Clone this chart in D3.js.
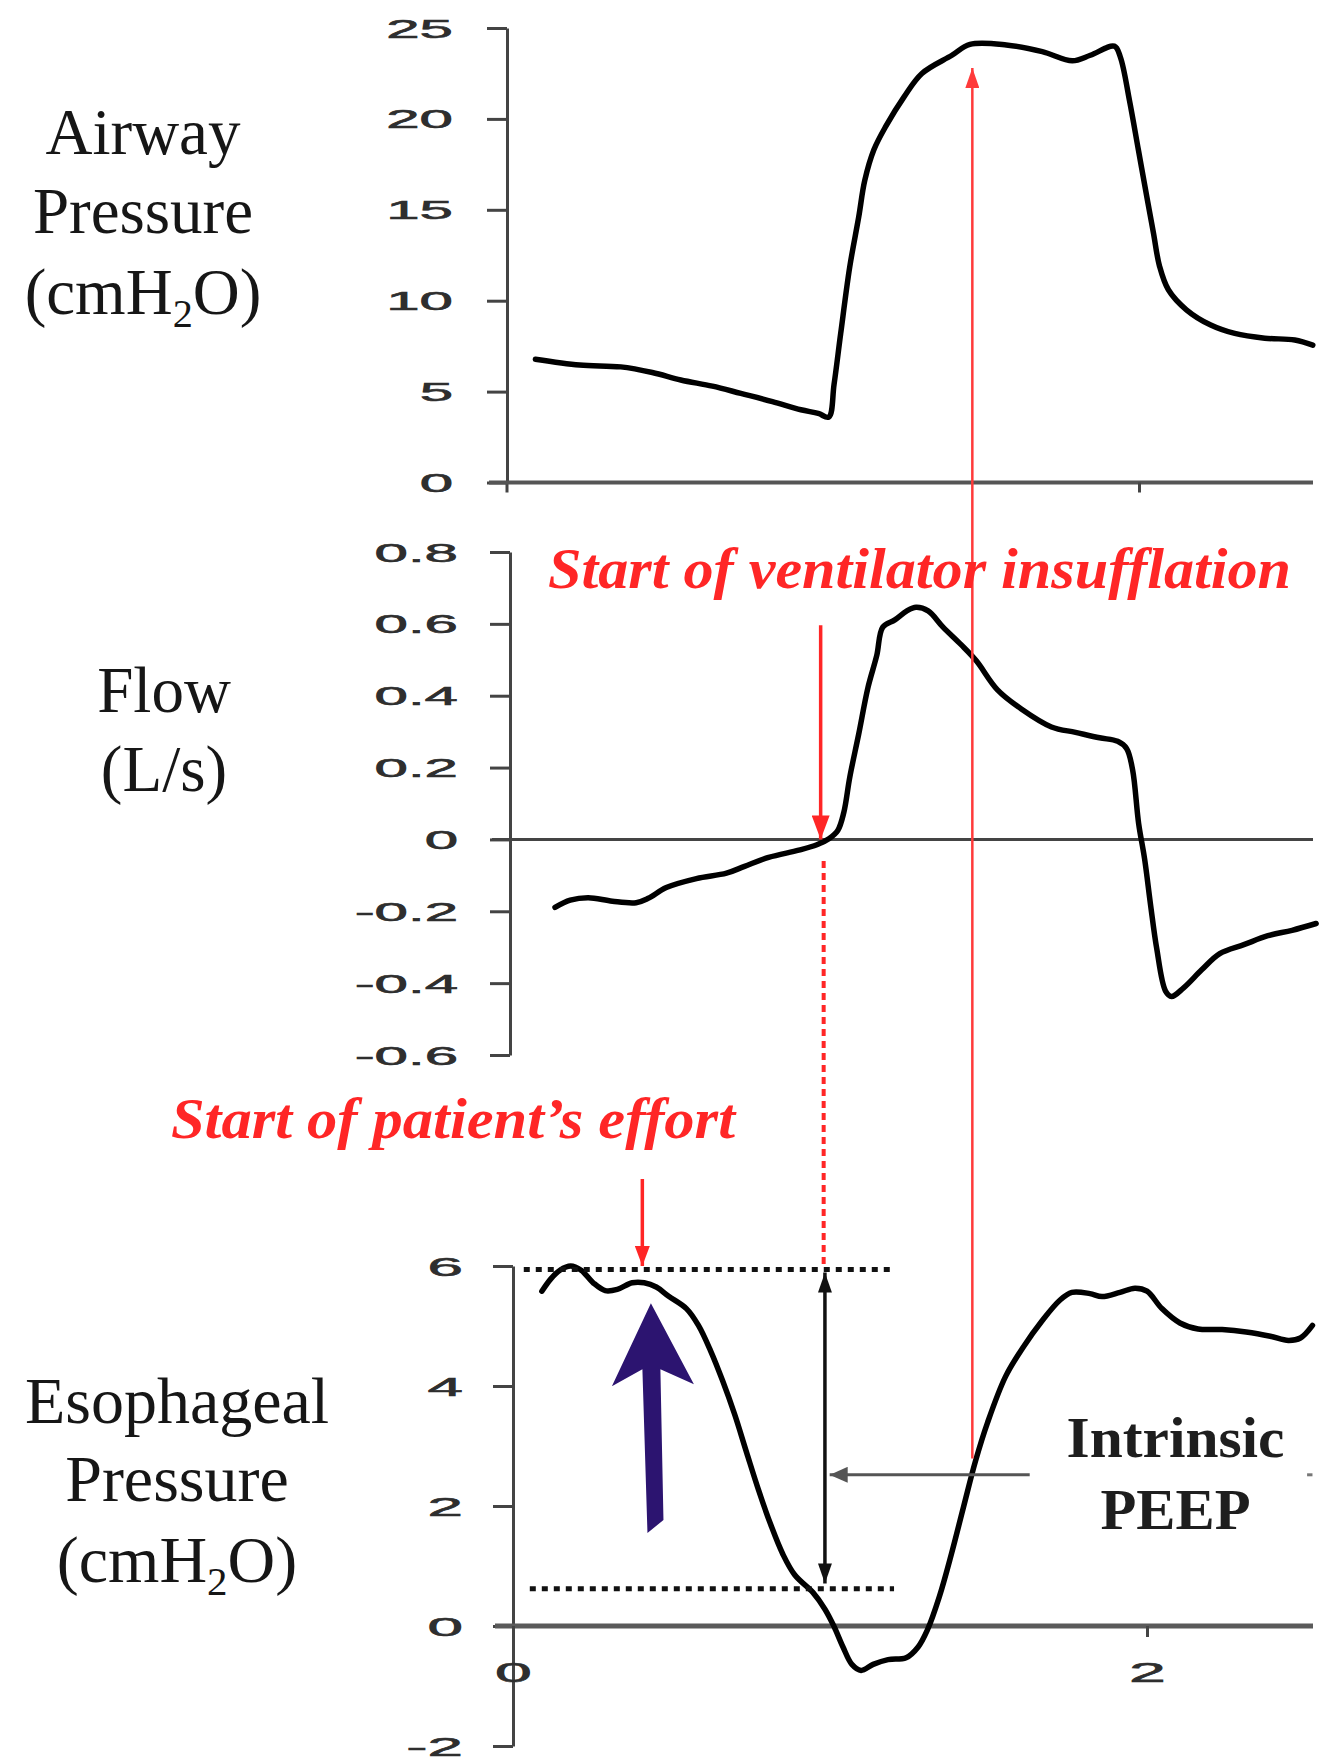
<!DOCTYPE html>
<html><head><meta charset="utf-8">
<script src="https://cdn.jsdelivr.net/npm/d3@7"></script>
<style>html,body{margin:0;padding:0;background:#fff}svg{display:block}</style>
</head><body>
<svg id="chart" width="1323" height="1760"></svg>
<script>
// ---------------- DATA ----------------
// Time (s) and airway pressure (cmH2O)
const airwayTime = [0.09,0.23,0.36,0.46,0.55,0.65,0.74,0.84,0.93,0.985,1.018,1.035,1.056,1.085,1.113,1.132,1.161,1.199,1.256,1.313,1.408,1.465,1.58,1.694,1.789,1.846,1.922,1.941,1.97,1.998,2.027,2.046,2.065,2.093,2.15,2.227,2.303,2.398,2.493,2.55];
const airwayPressure = [6.78,6.46,6.36,6.05,5.64,5.3,4.9,4.45,4.0,3.8,3.6,5.4,8.2,11.9,14.6,16.6,18.3,19.6,21.2,22.5,23.5,24.1,24.07,23.7,23.2,23.5,24.0,23.4,21.0,18.3,15.5,13.7,11.9,10.6,9.5,8.66,8.2,7.94,7.84,7.56];
// Time (s) and flow (L/s)
const flowTime = [0.142,0.19,0.247,0.323,0.398,0.436,0.493,0.588,0.683,0.74,0.816,0.911,0.968,1.006,1.034,1.053,1.072,1.1,1.129,1.157,1.176,1.214,1.252,1.281,1.319,1.366,1.423,1.471,1.537,1.613,1.708,1.784,1.86,1.917,1.945,1.964,1.983,2.002,2.021,2.04,2.068,2.087,2.125,2.182,2.239,2.315,2.391,2.467,2.543];
const flowValues = [-0.189,-0.169,-0.162,-0.172,-0.176,-0.164,-0.134,-0.109,-0.094,-0.075,-0.05,-0.03,-0.015,0.002,0.025,0.075,0.174,0.293,0.422,0.512,0.591,0.611,0.636,0.646,0.636,0.591,0.542,0.497,0.417,0.363,0.313,0.298,0.283,0.273,0.253,0.194,0.045,-0.055,-0.184,-0.303,-0.422,-0.437,-0.413,-0.363,-0.318,-0.293,-0.268,-0.253,-0.234];
// Time (s) and esophageal pressure (cmH2O)
const esoTime = [0.091,0.12,0.148,0.182,0.215,0.253,0.291,0.329,0.376,0.414,0.452,0.49,0.547,0.585,0.623,0.661,0.699,0.737,0.775,0.813,0.851,0.889,0.946,0.984,1.012,1.041,1.069,1.098,1.136,1.183,1.24,1.278,1.307,1.345,1.383,1.421,1.459,1.497,1.554,1.611,1.668,1.725,1.763,1.82,1.858,1.915,1.962,2.0,2.047,2.104,2.161,2.237,2.313,2.389,2.446,2.484,2.522];
const esoPressure = [5.58,5.79,5.93,6.0,5.93,5.72,5.59,5.61,5.72,5.72,5.65,5.5,5.29,5.01,4.59,4.09,3.53,2.89,2.26,1.69,1.2,0.85,0.56,0.28,0,-0.35,-0.64,-0.74,-0.64,-0.56,-0.53,-0.35,-0.07,0.49,1.2,1.98,2.75,3.39,4.16,4.66,5.08,5.43,5.56,5.54,5.49,5.56,5.63,5.58,5.29,5.05,4.95,4.94,4.9,4.83,4.76,4.8,5.01];

// Tick values / labels
const airwayTicks = [0,5,10,15,20,25];
const flowTicks = [-0.6,-0.4,-0.2,0,0.2,0.4,0.6,0.8];
const esoTicks = [-2,0,2,4,6];
const timeTicks = [0,2];
const topTimeTicks = [2];

// Panel titles
const airwayTitle = ["Airway","Pressure","(cmH|2|O)"];
const flowTitle = ["Flow","(L/s)"];
const esoTitle = ["Esophageal","Pressure","(cmH|2|O)"];

// Annotation values (time s, value in panel units)
const ventLabel = "Start of ventilator insufflation";
const effortLabel = "Start of patient\u2019s effort";
const peepLabel = ["Intrinsic","PEEP"];
const ventArrow = [0.98, 0.596, 0.0];          // t, flow from, flow to
const ventDotted = [0.98, -0.06, 6.0];         // t, flow from, eso to
const effortArrow = [0.408, 7.45, 6.0];        // t, eso from, eso to
const peakArrow = [1.449, 2.79, 22.8];         // t, eso from, airway to
const upperDotted = [0.034, 1.202, 5.94];      // t from, t to, eso
const lowerDotted = [0.053, 1.202, 0.62];
const peepSpan = [0.984, 5.89, 0.71];          // t, eso top, eso bottom
const peepPointer = [1.63, 0.999, 2.52];       // t from, t to, eso
const peepDash = [2.505, 2.522, 2.52];
const blueArrow = [0.451, 1.65, 0.435, 5.38];  // t base, eso base, t tip, eso tip
const ventLabelPos = [0.12, 0.70];
const effortLabelPos = [-1.079, 8.13];
const peepLabelPos = [2.09, 2.82, 1.62];

// ---------------- SCALES ----------------
const plotRight = 1313;
const xTop = d3.scaleLinear().domain([0,2]).range([507,1139]);
const yTop = d3.scaleLinear().domain([0,25]).range([482.5,28]);
const xFlow = d3.scaleLinear().domain([0,2]).range([510,1144]);
const yFlow = d3.scaleLinear().domain([-0.6,0.8]).range([1055,552]);
const xEso = d3.scaleLinear().domain([0,2]).range([513,1147]);
const yEso = d3.scaleLinear().domain([-2,6]).range([1746,1266]);

const svg = d3.select("#chart");
const RED = "#ff2626";
const AX = "#444";

// markers
const defs = svg.append("defs");
function marker(id, color, len, wid, orient) {
  defs.append("marker").attr("id", id).attr("viewBox","0 0 10 10")
    .attr("refX",10).attr("refY",5).attr("markerUnits","userSpaceOnUse")
    .attr("markerWidth",len).attr("markerHeight",wid)
    .attr("preserveAspectRatio","none").attr("orient",orient || "auto")
    .append("path").attr("d","M0,0L10,5L0,10z").attr("fill",color);
}
marker("redBig", RED, 24, 18);
marker("redThin", "#ff3a3a", 20, 14);
marker("redSmall", RED, 20, 15);
marker("blk", "#111", 20, 14, "auto-start-reverse");
marker("gry", "#555", 18, 16);

// ---------------- AXES ----------------
const tickFmt = d => (d < 0 ? "-" : "") + String(Math.abs(d));
function styleLabels(sel, fs) {
  sel.attr("font-family", "Liberation Sans, Arial, sans-serif")
    .attr("font-size", fs).attr("fill", "#2e2e2e")
    .attr("stroke", "#2e2e2e").attr("stroke-width", 0.6);
}
function leftAxis(x, yScale, ticks, gap, fs, sx) {
  const g = svg.append("g").attr("transform", `translate(${x},0)`);
  g.call(d3.axisLeft(yScale).tickValues(ticks).tickSize(20).tickSizeOuter(0).tickFormat(tickFmt));
  g.select(".domain").attr("stroke", AX).attr("stroke-width", 3);
  g.selectAll(".tick line").attr("stroke", AX).attr("stroke-width", 3);
  const tx = g.selectAll(".tick text").attr("x", null).attr("dy", "0.36em")
    .attr("transform", `translate(${-gap},0) scale(${sx},1)`).attr("text-anchor", "end");
  styleLabels(tx, fs);
  return g;
}
leftAxis(507, yTop, airwayTicks, 54, 25, 2.4);
leftAxis(510, yFlow, flowTicks, 52, 25, 2.4);
leftAxis(513, yEso, esoTicks, 50, 26, 2.45);

// top panel baseline + tick
svg.append("line").attr("x1", xTop(0)).attr("x2", xTop(0)).attr("y1", yTop(0)).attr("y2", yTop(0)+10)
  .attr("stroke", AX).attr("stroke-width", 3);
svg.append("line").attr("x1", xTop(0)-18).attr("x2", plotRight).attr("y1", yTop(0)).attr("y2", yTop(0))
  .attr("stroke", "#555").attr("stroke-width", 4);
const gtx = svg.append("g").attr("transform", `translate(0,${yTop(0)})`)
  .call(d3.axisBottom(xTop).tickValues(topTimeTicks).tickSize(10).tickFormat(""));
gtx.select(".domain").remove();
gtx.selectAll(".tick line").attr("stroke", AX).attr("stroke-width", 3);

// flow zero line
svg.append("line").attr("x1", xFlow(0)-18).attr("x2", plotRight).attr("y1", yFlow(0)).attr("y2", yFlow(0))
  .attr("stroke", "#444").attr("stroke-width", 3);

// esophageal zero line + time axis
svg.append("line").attr("x1", xEso(0)-18).attr("x2", plotRight).attr("y1", yEso(0)).attr("y2", yEso(0))
  .attr("stroke", "#5a5a5a").attr("stroke-width", 5);
const gbx = svg.append("g").attr("transform", `translate(0,${yEso(0)})`)
  .call(d3.axisBottom(xEso).tickValues(timeTicks).tickSize(11).tickFormat(d => String(d)));
gbx.select(".domain").remove();
gbx.selectAll(".tick line").attr("stroke", AX).attr("stroke-width", 3);
const btx = gbx.selectAll(".tick text").attr("y", null).attr("dy", "0.36em")
  .attr("transform", "translate(0,46) scale(2.45,1)").attr("text-anchor", "middle");
styleLabels(btx, 27);

// ---------------- TITLES ----------------
function title(lines, cx, baselines, fs) {
  lines.forEach((ln, i) => {
    const t = svg.append("text").attr("x", cx).attr("y", baselines[i]).attr("text-anchor", "middle")
      .attr("font-family", "Liberation Serif, Times New Roman, serif").attr("font-size", fs).attr("fill", "#161616");
    const parts = ln.split("|");
    if (parts.length === 1) { t.text(ln); return; }
    t.append("tspan").text(parts[0]);
    t.append("tspan").attr("font-size", fs*0.62).attr("dy", fs*0.2).text(parts[1]);
    t.append("tspan").attr("dy", -fs*0.2).text(parts[2]);
  });
}
title(airwayTitle, 143, [154, 233, 314], 65);
title(flowTitle, 164, [712, 791], 65);
title(esoTitle, 177, [1423, 1501, 1582], 66);

// ---------------- CURVES ----------------
function curve(ts, vs, xs, ys) {
  const pts = ts.map((t, i) => [xs(t), ys(vs[i])]);
  svg.append("path").attr("d", d3.line().curve(d3.curveCatmullRom.alpha(0.5))(pts))
    .attr("fill", "none").attr("stroke", "#000").attr("stroke-width", 5.5)
    .attr("stroke-linejoin", "round").attr("stroke-linecap", "round");
}
curve(airwayTime, airwayPressure, xTop, yTop);
curve(flowTime, flowValues, xFlow, yFlow);
curve(esoTime, esoPressure, xEso, yEso);

// ---------------- ANNOTATIONS ----------------
// black dotted reference lines
[upperDotted, lowerDotted].forEach(d => {
  svg.append("line").attr("x1", xEso(d[0])).attr("x2", xEso(d[1])).attr("y1", yEso(d[2])).attr("y2", yEso(d[2]))
    .attr("stroke", "#111").attr("stroke-width", 5).attr("stroke-dasharray", "6,6");
});
// double-headed arrow (intrinsic PEEP span)
svg.append("line").attr("x1", xEso(peepSpan[0])).attr("x2", xEso(peepSpan[0]))
  .attr("y1", yEso(peepSpan[1])).attr("y2", yEso(peepSpan[2]))
  .attr("stroke", "#111").attr("stroke-width", 3.5)
  .attr("marker-start", "url(#blk)").attr("marker-end", "url(#blk)");
// pointer from label
svg.append("line").attr("x1", xEso(peepPointer[0])).attr("x2", xEso(peepPointer[1]))
  .attr("y1", yEso(peepPointer[2])).attr("y2", yEso(peepPointer[2]))
  .attr("stroke", "#555").attr("stroke-width", 3).attr("marker-end", "url(#gry)");
svg.append("line").attr("x1", xEso(peepDash[0])).attr("x2", xEso(peepDash[1]))
  .attr("y1", yEso(peepDash[2])).attr("y2", yEso(peepDash[2]))
  .attr("stroke", "#777").attr("stroke-width", 3);
// PEEP label
[0,1].forEach(i => {
  svg.append("text").attr("x", xEso(peepLabelPos[0])).attr("y", yEso(peepLabelPos[1+i]))
    .attr("text-anchor", "middle").attr("font-family", "Liberation Serif, Times New Roman, serif")
    .attr("font-weight", "bold").attr("font-size", 56).attr("fill", "#1e1e1e")
    .attr("textLength", i === 0 ? 218 : 150).attr("lengthAdjust", "spacingAndGlyphs")
    .text(peepLabel[i]);
});

// red dotted line from flow zero-crossing down to esophageal
svg.append("line").attr("x1", xEso(ventDotted[0])).attr("x2", xEso(ventDotted[0]))
  .attr("y1", yFlow(ventDotted[1])).attr("y2", yEso(ventDotted[2]))
  .attr("stroke", RED).attr("stroke-width", 4).attr("stroke-dasharray", "7,5");
// red arrow to start of insufflation
svg.append("line").attr("x1", xFlow(ventArrow[0])).attr("x2", xFlow(ventArrow[0]))
  .attr("y1", yFlow(ventArrow[1])).attr("y2", yFlow(ventArrow[2]))
  .attr("stroke", RED).attr("stroke-width", 3.5).attr("marker-end", "url(#redBig)");
// red arrow to start of effort
svg.append("line").attr("x1", xEso(effortArrow[0])).attr("x2", xEso(effortArrow[0]))
  .attr("y1", yEso(effortArrow[1])).attr("y2", yEso(effortArrow[2]))
  .attr("stroke", RED).attr("stroke-width", 3.5).attr("marker-end", "url(#redSmall)");
// long red arrow to peak airway pressure
svg.append("line").attr("x1", xEso(peakArrow[0])).attr("x2", xEso(peakArrow[0]))
  .attr("y1", yEso(peakArrow[1])).attr("y2", yTop(peakArrow[2]))
  .attr("stroke", "#ff3a3a").attr("stroke-width", 2.5).attr("marker-end", "url(#redThin)");

// red labels
svg.append("text").attr("x", xFlow(ventLabelPos[0])).attr("y", yFlow(ventLabelPos[1]))
  .attr("font-family", "Liberation Serif, Times New Roman, serif").attr("font-weight", "bold")
  .attr("font-style", "italic").attr("font-size", 57).attr("fill", RED)
  .attr("textLength", 743).attr("lengthAdjust", "spacingAndGlyphs").text(ventLabel);
svg.append("text").attr("x", xEso(effortLabelPos[0])).attr("y", yEso(effortLabelPos[1]))
  .attr("font-family", "Liberation Serif, Times New Roman, serif").attr("font-weight", "bold")
  .attr("font-style", "italic").attr("font-size", 57).attr("fill", RED)
  .attr("textLength", 564).attr("lengthAdjust", "spacingAndGlyphs").text(effortLabel);

// blue arrow
(function() {
  const bx = xEso(blueArrow[0]), by = yEso(blueArrow[1]);
  const tx = xEso(blueArrow[2]), ty = yEso(blueArrow[3]);
  const hw = 41, sw = 8.5, headBack = 82, join = 66;
  const pts = [
    [tx, ty],
    [tx + hw + 2, ty + headBack - 1],
    [tx + sw + 1, ty + join],
    [bx + sw - 1, by - 7],
    [bx - sw, by + 6],
    [tx - sw, ty + join],
    [tx - hw + 2, ty + headBack + 1]
  ];
  svg.append("path").attr("d", "M" + pts.map(p => p.join(",")).join("L") + "Z")
    .attr("fill", "#2c1470");
})();
</script>
</body></html>
